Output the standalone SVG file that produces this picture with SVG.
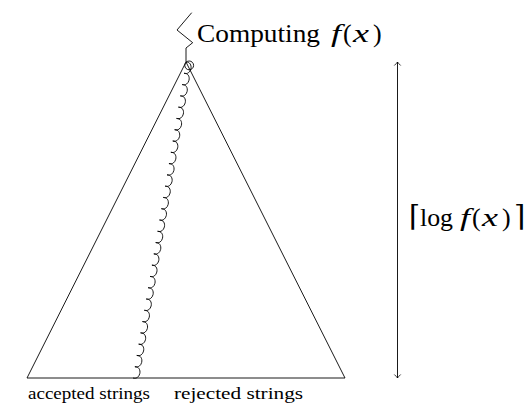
<svg xmlns="http://www.w3.org/2000/svg" width="532" height="404" viewBox="0 0 532 404">
  <defs>
    <style>
      .ln { fill: none; stroke: #000; stroke-width: 0.9; stroke-linejoin: miter; }
      .big { font-family: "Liberation Serif", "DejaVu Serif", serif; font-size: 26px; fill: #000; }
      .it { font-style: italic; }
      .small { font-family: "Liberation Serif", "DejaVu Serif", serif; font-size: 16px; fill: #000; }
      .br { font-size: 29px; }
    </style>
    <marker id="tip" viewBox="-5 -5 7 10" markerWidth="7" markerHeight="10" refX="0" refY="0" orient="auto-start-reverse" markerUnits="userSpaceOnUse">
      <path d="M-3.5,-3.2 Q-1.2,-0.8 0,0 Q-1.2,0.8 -3.5,3.2" fill="none" stroke="#000" stroke-width="0.8"/>
    </marker>
  </defs>
  <rect width="532" height="404" fill="#fff"/>

  <g id="tree">
    <path class="ln" d="M186,62 L27,378 L345,378 Z"/>
  </g>

  <g id="label-computing">
    <text class="big" y="42"><tspan x="197" textLength="123" lengthAdjust="spacingAndGlyphs">Computing</tspan><tspan class="it" x="331" textLength="10" lengthAdjust="spacingAndGlyphs">f</tspan><tspan x="343">(</tspan><tspan class="it" x="353" textLength="16" lengthAdjust="spacingAndGlyphs">x</tspan><tspan x="373">)</tspan></text>
  </g>

  <g id="label-height">
    <text class="big" y="226"><tspan class="br" x="409">⌈</tspan><tspan x="420" textLength="33" lengthAdjust="spacingAndGlyphs">log</tspan><tspan class="it" x="460" textLength="10" lengthAdjust="spacingAndGlyphs">f</tspan><tspan x="472">(</tspan><tspan class="it" x="482" textLength="16" lengthAdjust="spacingAndGlyphs">x</tspan><tspan x="502">)</tspan><tspan class="br" x="514">⌉</tspan></text>
  </g>

  <g id="label-accepted">
    <text class="small" x="28" y="399" textLength="122" lengthAdjust="spacingAndGlyphs">accepted strings</text>
  </g>
  <g id="label-rejected">
    <text class="small" x="174" y="399" textLength="129" lengthAdjust="spacingAndGlyphs">rejected strings</text>
  </g>

  <g id="connectors">
    <path class="ln" d="M186,62 L186,48 L192.7,42.7 L177,30 L191.7,12.7"/>
    <path class="ln" d="M133,378 c7.6,2.4 10.1,-11.4 1.893,-11.286 c7.6,2.4 10.1,-11.4 1.893,-11.286 c7.6,2.4 10.1,-11.4 1.893,-11.286 c7.6,2.4 10.1,-11.4 1.893,-11.286 c7.6,2.4 10.1,-11.4 1.893,-11.286 c7.6,2.4 10.1,-11.4 1.893,-11.286 c7.6,2.4 10.1,-11.4 1.893,-11.286 c7.6,2.4 10.1,-11.4 1.893,-11.286 c7.6,2.4 10.1,-11.4 1.893,-11.286 c7.6,2.4 10.1,-11.4 1.893,-11.286 c7.6,2.4 10.1,-11.4 1.893,-11.286 c7.6,2.4 10.1,-11.4 1.893,-11.286 c7.6,2.4 10.1,-11.4 1.893,-11.286 c7.6,2.4 10.1,-11.4 1.893,-11.286 c7.6,2.4 10.1,-11.4 1.893,-11.286 c7.6,2.4 10.1,-11.4 1.893,-11.286 c7.6,2.4 10.1,-11.4 1.893,-11.286 c7.6,2.4 10.1,-11.4 1.893,-11.286 c7.6,2.4 10.1,-11.4 1.893,-11.286 c7.6,2.4 10.1,-11.4 1.893,-11.286 c7.6,2.4 10.1,-11.4 1.893,-11.286 c7.6,2.4 10.1,-11.4 1.893,-11.286 c7.6,2.4 10.1,-11.4 1.893,-11.286 c7.6,2.4 10.1,-11.4 1.893,-11.286 c7.6,2.4 10.1,-11.4 1.893,-11.286 c7.6,2.4 10.1,-11.4 1.893,-11.286 c7.6,2.4 10.1,-11.4 1.893,-11.286 c7.6,2.4 10.1,-11.4 1.893,-11.286"/>
    <circle class="ln" cx="189.2" cy="65.4" r="4.4"/>
    <path class="ln" d="M397.5,62 L397.5,378" marker-start="url(#tip)" marker-end="url(#tip)"/>
  </g>
</svg>
